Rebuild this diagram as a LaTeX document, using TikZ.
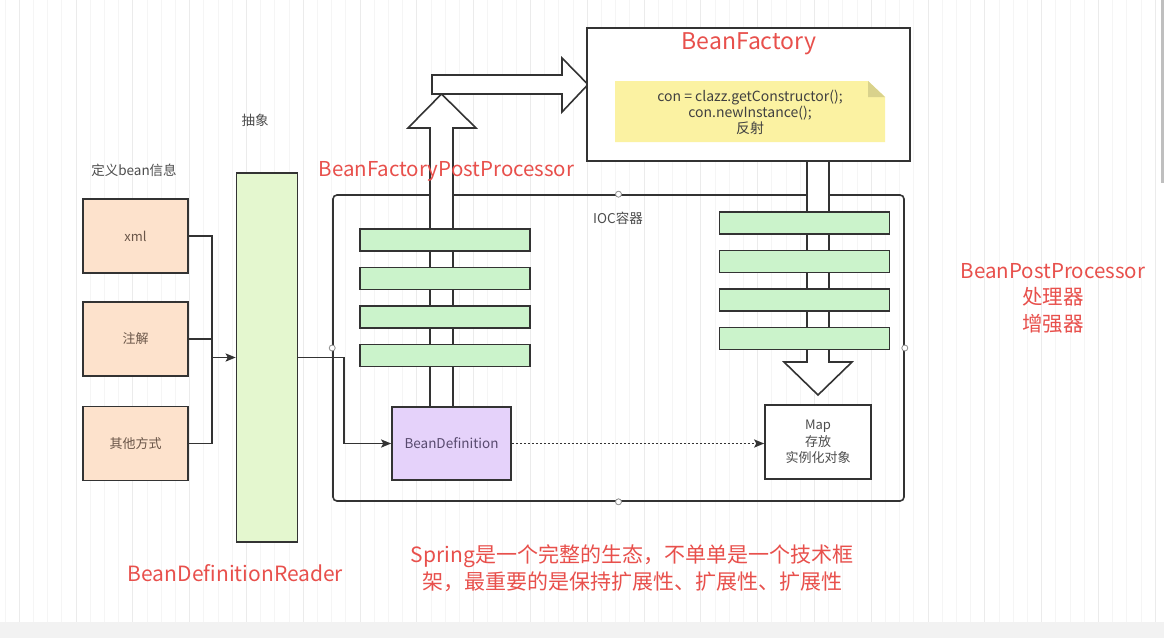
\documentclass[tikz,border=0pt]{standalone}
\usepackage{fontspec}
\setmainfont{Noto Sans CJK SC}
\usetikzlibrary{positioning,arrows.meta}

\definecolor{boxline}{RGB}{51,51,51}
\definecolor{peach}{RGB}{253,226,204}
\definecolor{readerfill}{RGB}{228,247,207}
\definecolor{barfill}{RGB}{203,243,203}
\definecolor{lavender}{RGB}{229,210,250}
\definecolor{notefill}{RGB}{251,242,162}
\definecolor{notefold}{RGB}{217,210,140}
\definecolor{labelred}{RGB}{232,80,76}
\definecolor{textgray}{RGB}{77,77,77}
\definecolor{brownish}{RGB}{105,85,72}
\definecolor{purplegray}{RGB}{88,74,110}

\begin{document}
\begin{tikzpicture}[x=1pt, y=-1pt, >={Stealth[length=10pt,width=8pt,inset=2pt]},
  box/.style={draw=boxline, line width=1.6pt, inner sep=0pt, align=center,
    font=\fontsize{13}{16.5}\selectfont, text=textgray},
  srcbox/.style={box, fill=peach, minimum width=105, minimum height=74, text=brownish},
  bar/.style={draw=boxline, line width=1.6pt, fill=barfill, minimum width=170,
    minimum height=22, inner sep=0pt},
  conn/.style={draw=boxline, line width=1.8pt},
  blockarrow/.style={draw=boxline, line width=1.6pt, fill=white, line join=miter},
  handle/.style={draw=black!45, fill=white, line width=0.8pt},
  redlabel/.style={text=labelred, align=center, font=\fontsize{20.5}{26.5}\selectfont},
  graylabel/.style={text=textgray, font=\fontsize{13.5}{16}\selectfont}]

  \useasboundingbox (0,0) rectangle (1164,638);

  % Background grid and bottom strip
  \fill[white] (0,0) rectangle (1164,638);
  \begin{scope}[shift={(19,10)}]
    \draw[black!4, line width=0.6pt, step=14.2] (-19,-10) grid (1145,612);
    \draw[black!8, line width=0.6pt, step=56.8] (-19,-10) grid (1145,612);
  \end{scope}
  \fill[black!5] (0,622) rectangle (1164,638);
  \fill[black!25] (1161,0) rectangle (1164,183);

  % IOC container
  \node[draw=boxline, line width=1.6pt, rounded corners=4pt, minimum width=571,
    minimum height=306, inner sep=0pt] (ioc) at (618.5,348) {};
  \node[graylabel] (ioclabel) at (618,218) {IOC容器};

  % Block arrows (behind the bars)
  \draw[blockarrow] (430,407) -- (430,128) -- (408,128) -- (441.5,94)
    -- (476,128) -- (453,128) -- (453,407) -- cycle;
  \draw[blockarrow] (432,75) -- (562,75) -- (562,58) -- (588,84.5)
    -- (562,112) -- (562,94) -- (432,94) -- cycle;
  \draw[blockarrow] (807,161) -- (807,362) -- (784,362) -- (818,395)
    -- (852,362) -- (829,362) -- (829,161) -- cycle;

  % Post processor bars
  \foreach \i in {0,...,3} {
    \node[bar] (fpp\i) at (445,240+38.5*\i) {};
    \node[bar] (bpp\i) at (804.5,223+38.5*\i) {};
  }

  % BeanFactory with note
  \node[box, fill=white, minimum width=323, minimum height=133] (factory) at (748.5,94.5) {};
  \node[text=labelred, font=\fontsize{23}{28}\selectfont] (factorytitle) at (749,44) {BeanFactory};
  \fill[notefill] (615,81) -- (868,81) -- (885,97) -- (885,142) -- (615,142) -- cycle;
  \fill[notefold] (868,81) -- (885,97) -- (868,97) -- cycle;
  \node[align=center, text=black!75, font=\fontsize{14}{16}\selectfont] (notetext) at (750,112)
    {con = clazz.getConstructor();\\con.newInstance();\\反射};

  % Bean definition and map
  \node[box, fill=lavender, minimum width=119, minimum height=73, text=purplegray,
    font=\fontsize{13.5}{16.5}\selectfont] (beandef) at (451.5,443.5) {BeanDefinition};
  \node[box, fill=white, minimum width=106, minimum height=74] (map) at (818,442)
    {Map\\存放\\实例化对象};

  % Sources and reader
  \node[graylabel] (deflabel) at (134,170) {定义bean信息};
  \node[graylabel] (abstlabel) at (255,120) {抽象};
  \node[srcbox] (xml) at (135.5,236) {xml};
  \node[srcbox] (anno) at (135.5,339) {注解};
  \node[srcbox] (other) at (135.5,443.5) {其他方式};
  \node[box, fill=readerfill, minimum width=61, minimum height=369] (reader) at (267,357.5) {};

  % Connectors
  \coordinate (bus) at (212,357.5);
  \draw[conn] (xml.east) -| (bus);
  \draw[conn] (other.east) -| (bus);
  \draw[conn] (anno.east) -- (anno.east -| bus);
  \draw[conn,->] (bus) -- (reader.west);
  \draw[conn,->] (reader.east) -- ++(45.5,0) |- (beandef.west);
  \draw[conn,->, dash pattern=on 2pt off 2pt] (beandef.east) -- (beandef.east -| map.west);

  % Handles on the container outline
  \foreach \p in {north,east,south,west}
    \draw[handle] (ioc.\p) circle (3);

  % Red labels
  \node[redlabel] (bfpp) at (446.5,171) {BeanFactoryPostProcessor};
  \node[redlabel] (bpp) at (1053,298) {BeanPostProcessor\\处理器\\增强器};
  \node[redlabel, font=\fontsize{21}{26.5}\selectfont] (readerlabel) at (235.5,573) {BeanDefinitionReader};
  \node[redlabel, font=\fontsize{21}{27}\selectfont] (slogan) at (632,568)
    {Spring是一个完整的生态，不单单是一个技术框\\架，最重要的是保持扩展性、扩展性、扩展性};

\end{tikzpicture}
\end{document}
